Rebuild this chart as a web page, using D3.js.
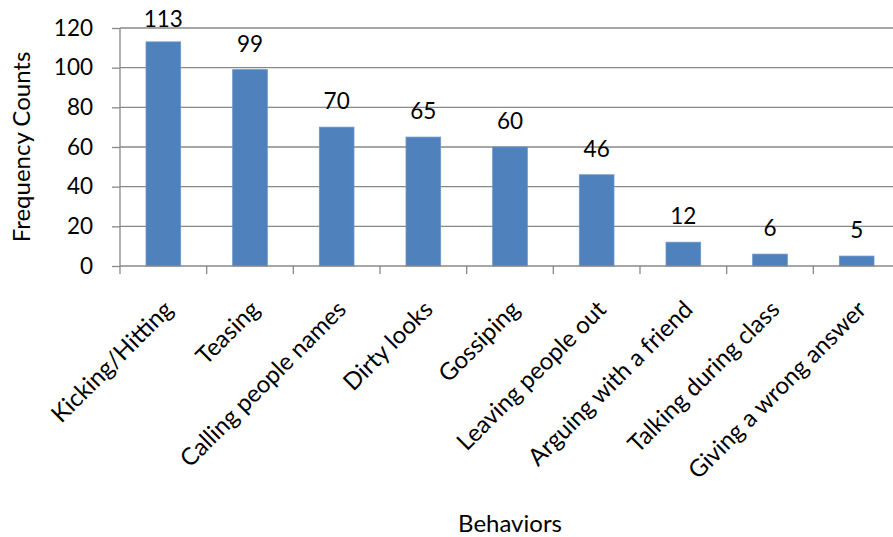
<!DOCTYPE html>
<html><head><meta charset="utf-8">
<script src="https://cdn.jsdelivr.net/npm/d3@7"></script>
<style>body{margin:0;background:#fff}svg{display:block}text{font-family:Lato,"Open Sans",sans-serif;fill:#000}</style>
</head><body>
<svg id="c" width="893" height="537"></svg>
<script>
const categories = ["Kicking/Hitting","Teasing","Calling people names","Dirty looks","Gossiping","Leaving people out","Arguing with a friend","Talking during class","Giving a wrong answer"];
const values = [113,99,70,65,60,46,12,6,5];
const yTicks = [0,20,40,60,80,100,120];

const svg = d3.select("#c");
const mLeft = 120, mRight = 900, mTop = 28, mBottom = 266;
const x = d3.scaleBand().domain(categories).range([mLeft, mRight]).paddingInner(0.6).paddingOuter(0.3);
const y = d3.scaleLinear().domain([0,120]).range([mBottom, mTop]);
const grid = "#888888";
const numSize = 22.5, txtSize = 24;

// gridlines
svg.append("g").selectAll("line").data(yTicks.filter(d=>d>0)).join("line")
  .attr("x1", mLeft).attr("x2", mRight).attr("y1", d=>y(d)).attr("y2", d=>y(d))
  .attr("stroke", grid).attr("stroke-width", 1.3);

// y axis
const ya = svg.append("g").attr("transform", `translate(${mLeft},0)`)
  .call(d3.axisLeft(y).tickValues(yTicks).tickSize(8).tickPadding(19));
ya.selectAll("line,path").attr("stroke", grid).attr("stroke-width", 1.3);
ya.select(".domain").attr("d", `M0,${mTop}V${mBottom}`);
ya.selectAll("text").attr("font-size", numSize).attr("font-family", "Lato").attr("fill","#000");

// bars
svg.append("g").selectAll("rect").data(values).join("rect")
  .attr("x", (d,i)=>x(categories[i])).attr("width", x.bandwidth())
  .attr("y", d=>y(d)).attr("height", d=>mBottom - y(d))
  .attr("fill", "#4F81BD").attr("stroke", "#6B95C8").attr("stroke-width", 0.8);

// x axis
const n = categories.length;
const xa = svg.append("g").attr("transform", `translate(0,${mBottom})`);
xa.append("line").attr("x1", mLeft).attr("x2", mRight).attr("stroke", grid).attr("stroke-width", 1.3);
xa.selectAll("line.t").data(d3.range(n+1)).join("line").attr("class","t")
  .attr("x1", i=>mLeft + i*(mRight-mLeft)/n).attr("x2", i=>mLeft + i*(mRight-mLeft)/n)
  .attr("y1", 0).attr("y2", 8).attr("stroke", grid).attr("stroke-width", 1.3);

// category labels
svg.append("g").selectAll("text").data(categories).join("text")
  .attr("transform", d=>`translate(${x(d)+x.bandwidth()/2+11},${mBottom+45}) rotate(-45)`)
  .attr("text-anchor","end").attr("font-size", txtSize).text(d=>d);

// data labels
svg.append("g").selectAll("text").data(values).join("text")
  .attr("x", (d,i)=>x(categories[i])+x.bandwidth()/2)
  .attr("y", d=>Math.max(y(d)-18, 27))
  .attr("text-anchor","middle").attr("font-size", numSize).text(d=>d);

// axis titles
svg.append("text").attr("transform", `translate(30,${(mTop+mBottom)/2}) rotate(-90)`)
  .attr("text-anchor","middle").attr("font-size", txtSize).text("Frequency Counts");
svg.append("text").attr("x", (mLeft+mRight)/2).attr("y", 532)
  .attr("text-anchor","middle").attr("font-size", txtSize).text("Behaviors");
</script>
</body></html>
